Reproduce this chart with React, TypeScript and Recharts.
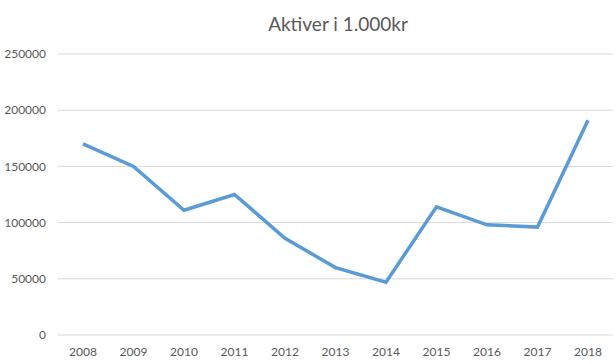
import { CartesianGrid, Line, LineChart, XAxis, YAxis } from 'recharts';

const years = ['2008', '2009', '2010', '2011', '2012', '2013', '2014', '2015', '2016', '2017', '2018'];
const assets = [170000, 150000, 111000, 125000, 86000, 60000, 47000, 114000, 98000, 96000, 191000];
const yTicks = [0, 50000, 100000, 150000, 200000, 250000];

const chartData = years.map((year, i) => ({ year, value: assets[i] }));

const fontFamily = 'Lato, "Open Sans", sans-serif';
const textColor = '#595959';

export default function App() {
  return (
    <div style={{ position: 'absolute', left: 0, top: 0, width: 616, height: 364, background: '#fff', fontFamily }}>
      <div
        style={{
          position: 'absolute',
          left: 0,
          width: 676,
          top: 12,
          textAlign: 'center',
          fontSize: 19,
          color: textColor,
        }}
      >
        Aktiver i 1.000kr
      </div>
      <LineChart width={616} height={364} data={chartData} margin={{ top: 54, right: 3, left: 0, bottom: 0 }}>
        <CartesianGrid vertical={false} stroke="#d9d9d9" strokeWidth={1} />
        <XAxis
          dataKey="year"
          axisLine={false}
          tickLine={false}
          height={29}
          tickMargin={6}
          padding={{ left: 25, right: 25 }}
          tick={{ fill: textColor, fontSize: 12, fontFamily }}
        />
        <YAxis
          domain={[0, 250000]}
          ticks={yTicks}
          axisLine={false}
          tickLine={false}
          width={58}
          tickMargin={6}
          interval={0}
          tick={{ fill: textColor, fontSize: 12, fontFamily }}
        />
        <Line
          type="linear"
          dataKey="value"
          stroke="#5b9bd5"
          strokeWidth={3.5}
          dot={false}
          activeDot={false}
          isAnimationActive={false}
        />
      </LineChart>
    </div>
  );
}
